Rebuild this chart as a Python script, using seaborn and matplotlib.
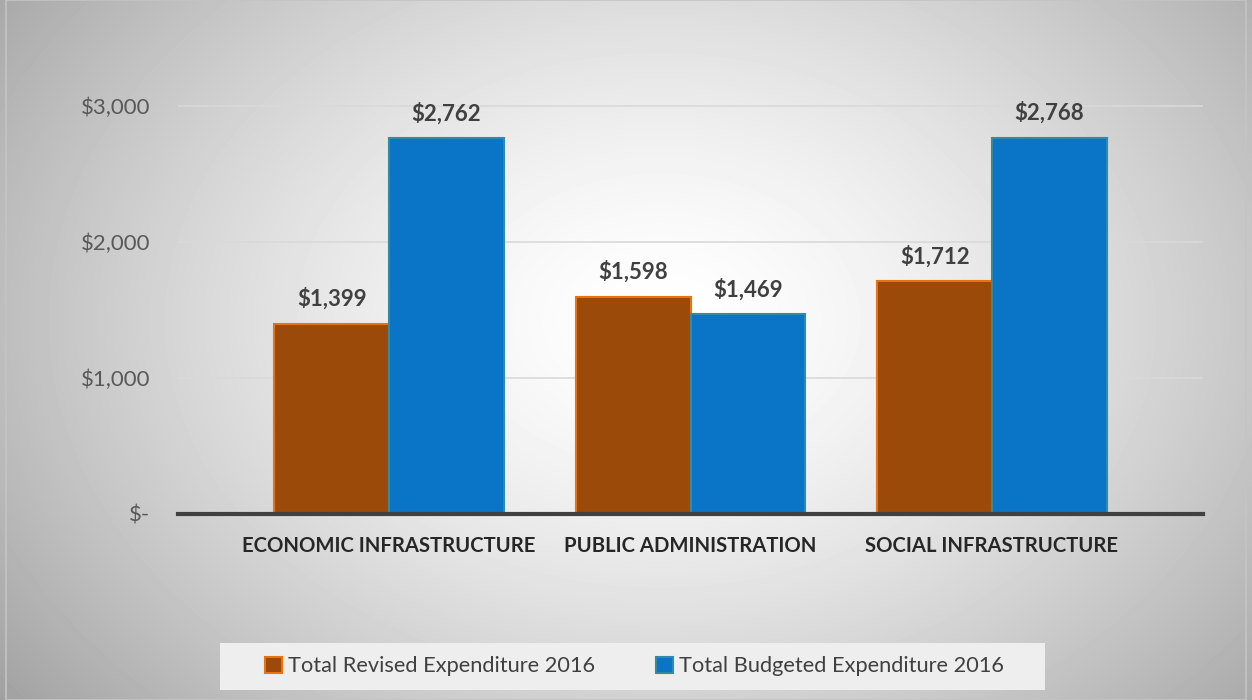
import matplotlib.pyplot as plt
import numpy as np
import pandas as pd
import seaborn as sns
from matplotlib.patches import Rectangle

# data
categories = ["ECONOMIC INFRASTRUCTURE", "PUBLIC ADMINISTRATION", "SOCIAL INFRASTRUCTURE"]
revised = [1399, 1598, 1712]
budgeted = [2762, 1469, 2768]
series = ["Total Revised Expenditure 2016", "Total Budgeted Expenditure 2016"]
yticks = [0, 1000, 2000, 3000]
ytick_labels = ["$-", "$1,000", "$2,000", "$3,000"]

df = pd.DataFrame({
    "category": categories * 2,
    "series": [series[0]] * 3 + [series[1]] * 3,
    "value": revised + budgeted,
})

sns.set_theme(style="white")
plt.rcParams["font.family"] = ["Lato", "DejaVu Sans"]

fig = plt.figure(figsize=(12.52, 7), dpi=100)

# radial grey background like the Excel chart area
bg = fig.add_axes([0, 0, 1, 1], zorder=-10)
yy, xx = np.mgrid[0:700, 0:1252]
r = np.sqrt(((xx - 660) / 680.0) ** 2 + ((yy - 320) / 500.0) ** 2)
shade = 1 - 0.27 * np.clip(r, 0, 1.3) ** 1.5
bg.imshow(shade, cmap="gray", vmin=0, vmax=1, aspect="auto")
bg.axis("off")
fig.patches.append(Rectangle((6 / 1252, 0), 1 - 12 / 1252, 1, transform=fig.transFigure,
                             fill=False, edgecolor="#c4c4c4", lw=1.2, zorder=-5))

ax = fig.add_axes([178 / 1252, 1 - 514 / 700, (1203 - 178) / 1252, (514 - 72) / 700])
ax.set_facecolor("none")

palette = {series[0]: "#9B4A09", series[1]: "#0A74C6"}
sns.barplot(data=df, x="category", y="value", hue="series", palette=palette,
            width=0.76, gap=0, saturation=1, ax=ax, legend=False)

edges = ["#E8740F"] * 3 + ["#2F8BA8"] * 3
for bar, ec in zip(ax.patches, edges):
    bar.set_edgecolor(ec)
    bar.set_linewidth(1.5)

for cont in ax.containers:
    ax.bar_label(cont, labels=[f"${v:,.0f}" for v in cont.datavalues], padding=10,
                 fontsize=16, fontweight="bold", color="#404040")

ax.set_xlim(-0.7, 2.7)
ax.set_ylim(0, 3250)
ax.set_yticks(yticks)
ax.set_yticklabels(ytick_labels, fontsize=16, color="#595959")
ax.tick_params(axis="y", length=0, pad=20)
ax.tick_params(axis="x", length=0, pad=16)
ax.set_xticks(range(3))
ax.set_xticklabels(categories, fontsize=14.6, fontweight="bold", color="#262626")
ax.set_xlabel("")
ax.set_ylabel("")
for v in yticks[1:]:
    ax.axhline(v, color="#d9d9d9", lw=1.2, zorder=0)
sns.despine(ax=ax, left=True, top=True, right=True)
ax.spines["bottom"].set_color("#404040")
ax.spines["bottom"].set_linewidth(3)

# legend box at the bottom
fig.patches.append(Rectangle((220 / 1252, 10 / 700), 825 / 1252, 47 / 700,
                             transform=fig.transFigure, facecolor="#eeeeee",
                             edgecolor="none", zorder=1))
handles = [Rectangle((0, 0), 1, 1, facecolor="#9B4A09", edgecolor="#E8740F", lw=1.5),
           Rectangle((0, 0), 1, 1, facecolor="#0A74C6", edgecolor="#2F8BA8", lw=1.5)]
leg = fig.legend(handles, series, loc="center", bbox_to_anchor=(0.507, 0.048), ncol=2,
                 frameon=False, fontsize=15.7, handlelength=0.75, handleheight=0.75,
                 handletextpad=0.3, columnspacing=2.8)
for t in leg.get_texts():
    t.set_color("#404040")

fig.savefig("out.png", dpi=100)
